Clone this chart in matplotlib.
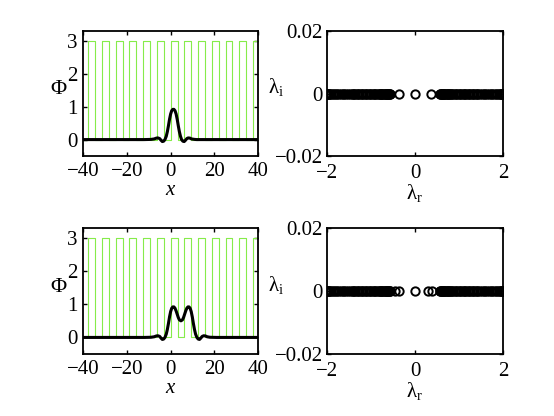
import matplotlib
matplotlib.use("Agg")
import matplotlib.pyplot as plt

plt.rcParams['font.family'] = ['Liberation Serif', 'DejaVu Serif']
plt.rcParams['mathtext.fontset'] = 'custom'
plt.rcParams['mathtext.rm'] = 'Liberation Serif'
plt.rcParams['mathtext.it'] = 'Liberation Serif:italic'

# ---- data ----
# periodic potential: rising/falling edges of the square wave (height 3)
pot_height = 3.0
pot_rise = [-37.70, -31.42, -25.13, -18.85, -12.57, -6.28, 0.0, 6.28, 12.57, 18.85, 25.13, 31.42, 37.70]
pot_fall = [-34.56, -28.27, -21.99, -15.71, -9.42, -3.14, 3.14, 9.42, 15.71, 21.99, 28.27, 34.56, 40.84]

# soliton profile (top)
x_top = [-40, -12, -9, -7.5, -6.5, -5.8, -5.0, -4.4, -3.8, -3.2, -2.6, -2.0, -1.5, -1.0, -0.5, 0.0,
         0.5, 1.0, 1.5, 2.0, 2.5, 3.0, 3.5, 4.0, 4.5, 5.0, 5.6, 6.2, 6.8, 7.4, 8.0, 8.8, 9.5, 11, 12, 15, 40]
y_top = [0, 0, 0.005, 0.02, 0.045, 0.05, 0.03, -0.02, -0.06, -0.05, 0.0, 0.1, 0.24, 0.42, 0.62, 0.78,
         0.88, 0.92, 0.92, 0.88, 0.78, 0.62, 0.42, 0.24, 0.1, 0.0, -0.05, -0.06, -0.02, 0.03, 0.05, 0.045, 0.02, 0.005, 0, 0, 0]

# two-hump profile (bottom)
x_bot = [-40, -12, -9, -7.5, -6.5, -5.8, -5.0, -4.4, -3.8, -3.2, -2.6, -2.0, -1.5, -1.0, -0.5, 0.0,
         0.5, 1.0, 1.5, 2.0, 2.5, 3.0, 3.5, 4.0, 4.7, 5.4, 5.9, 6.4, 6.9, 7.4, 7.9, 8.4, 8.9, 9.4,
         9.9, 10.4, 10.9, 11.4, 12.0, 12.6, 13.2, 13.8, 14.4, 15.1, 15.9, 16.7, 18, 21, 40]
y_bot = [0, 0, 0.005, 0.02, 0.045, 0.05, 0.03, -0.02, -0.06, -0.05, 0.0, 0.1, 0.24, 0.42, 0.62, 0.78,
         0.88, 0.92, 0.92, 0.88, 0.8, 0.7, 0.6, 0.53, 0.5, 0.53, 0.6, 0.7, 0.8, 0.88, 0.92, 0.92, 0.88, 0.78,
         0.62, 0.42, 0.24, 0.1, 0.0, -0.05, -0.06, -0.02, 0.03, 0.05, 0.045, 0.02, 0.005, 0, 0]

# spectra (real parts; imaginary parts all zero)
band_left = [-2.0, -1.985, -1.97, -1.95, -1.93, -1.9, -1.87, -1.84, -1.8, -1.76, -1.72, -1.68, -1.64,
             -1.6, -1.56, -1.52, -1.48, -1.44, -1.41, -1.38, -1.35, -1.32, -1.29, -1.26, -1.23, -1.2,
             -1.17, -1.14, -1.11, -1.08, -1.05, -1.02, -0.99, -0.96, -0.93, -0.9, -0.875, -0.85, -0.825,
             -0.8, -0.78, -0.76, -0.74, -0.72, -0.7, -0.68, -0.665, -0.65, -0.635, -0.62, -0.605, -0.59,
             -0.575, -0.56]
band_right = [0.56, 0.575, 0.59, 0.605, 0.62, 0.635, 0.65, 0.665, 0.68, 0.7, 0.72, 0.74, 0.76, 0.78,
              0.8, 0.825, 0.85, 0.875, 0.9, 0.93, 0.96, 0.99, 1.02, 1.05, 1.08, 1.11, 1.14, 1.17, 1.2,
              1.23, 1.26, 1.29, 1.32, 1.35, 1.38, 1.41, 1.44, 1.48, 1.52, 1.56, 1.6, 1.64, 1.68, 1.72,
              1.76, 1.8, 1.84, 1.87, 1.9, 1.93, 1.95, 1.97, 1.985, 2.0]
iso_top = [-0.37, 0.0, 0.37]
iso_bot = [-0.46, -0.36, 0.0, 0.29, 0.38]

# ---- figure ----
fig = plt.figure(figsize=(5.54, 4.16), dpi=100)
green = '#86ec4a'
fs = 15

def style(ax):
    ax.tick_params(direction='in', top=True, right=True, length=3, width=1.0,
                   labelsize=fs, pad=4)
    for s in ax.spines.values():
        s.set_linewidth(1.3)

def potential_xy():
    xs, ys = [-40], [0]
    for r, f in zip(pot_rise, pot_fall):
        xs += [r, r, f, f]
        ys += [0, pot_height, pot_height, 0]
    return xs, ys

def left_panel(rect, xp, yp):
    ax = fig.add_axes(rect)
    px, py = potential_xy()
    ax.plot(px, py, color=green, lw=0.8)
    ax.plot(xp, yp, color='black', lw=2.2)
    ax.set_xlim(-40, 40)
    ax.set_ylim(-0.5, 3.3)
    ax.set_xticks([-40, -20, 0, 20, 40])
    ax.set_xticklabels(['\u221240', '\u221220', '0', '20', '40'])
    ax.set_yticks([0, 1, 2, 3])
    style(ax)
    ax.set_xlabel('$x$', fontsize=fs, labelpad=0)
    ax.set_ylabel('\u03a6', fontsize=fs + 1, rotation=0, va='center', ha='center')
    ax.yaxis.set_label_coords(-0.143, 0.53)
    return ax

def right_panel(rect, iso):
    ax = fig.add_axes(rect)
    allx = band_left + iso + band_right
    ax.plot(allx, [0] * len(allx), 'o', mfc='none', mec='black', ms=6, mew=1.4)
    ax.set_xlim(-2, 2)
    ax.set_ylim(-0.02, 0.02)
    ax.set_xticks([-2, 0, 2])
    ax.set_xticklabels(['\u22122', '0', '2'])
    ax.set_yticks([-0.02, 0, 0.02])
    ax.set_yticklabels(['\u22120.02', '0', '0.02'])
    style(ax)
    ax.tick_params(axis='y', pad=3)
    ax.tick_params(axis='x', pad=6)
    ax.set_xlabel('\u03bb$_{\\mathrm{r}}$', fontsize=fs, labelpad=-1)
    ax.set_ylabel('\u03bb$_{\\mathrm{i}}$', fontsize=fs, rotation=0, va='center', ha='center')
    ax.yaxis.set_label_coords(-0.29, 0.55)
    return ax

left_panel([0.150, 0.625, 0.316, 0.300], x_top, y_top)
right_panel([0.590, 0.625, 0.318, 0.300], iso_top)
left_panel([0.150, 0.149, 0.316, 0.303], x_bot, y_bot)
right_panel([0.590, 0.149, 0.318, 0.303], iso_bot)

fig.savefig('out.png', dpi=100)
